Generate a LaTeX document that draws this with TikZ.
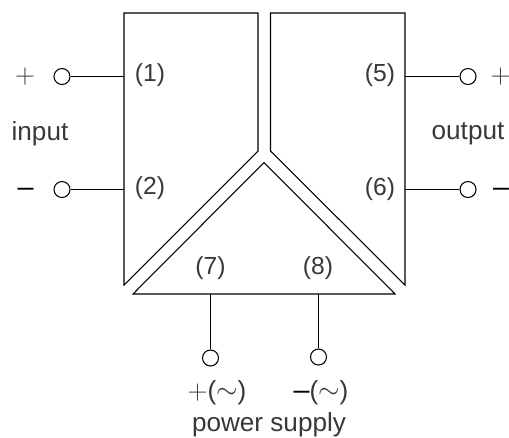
\documentclass[tikz,border=0pt]{standalone}
\usepackage{fontspec}
\setmainfont{Liberation Sans}
\tikzset{
  terminal/.style={
    circle,
    draw,
    fill=white,
    line width=0.8pt,
    minimum size=12pt,
    inner sep=0pt,
  },
  label text/.style={
    font=\fontsize{18.5pt}{20pt}\selectfont,
    text=black!78,
    inner sep=0pt,
  },
  word text/.style={
    label text,
    font=\fontsize{19.6pt}{21pt}\selectfont,
  },
  sign/.style={
    label text,
    font=\fontsize{20pt}{21pt}\selectfont,
  },
  minus sign/.style={
    label text,
    font=\fontsize{21.5pt}{26pt}\selectfont,
    text=black,
  },
  wire/.style={line width=0.8pt},
  block/.style={line width=0.8pt, line join=miter},
}

\begin{document}
\begin{tikzpicture}[x=0.75pt, y=-0.75pt]
        \useasboundingbox (0,0) rectangle (509,437);

        \draw[block] (124,13) -- (258,13) -- (258,151) -- (124,285) -- cycle;
        \draw[block] (270.5,13) -- (405,13) -- (405,285) -- (270.5,151) -- cycle;
        \draw[block] (264,162.5) -- (395,294) -- (133,294) -- cycle;

        \node[terminal] (in1) at (62,76.5) {};
        \node[terminal] (in2) at (62,189.5) {};
        \node[terminal] (out1) at (468,76.5) {};
        \node[terminal] (out2) at (468,189.5) {};
        \node[terminal] (pwr1) at (210.5,358) {};
        \node[terminal] (pwr2) at (318.5,357) {};

        \coordinate (p1) at (124,76.5);
        \coordinate (p2) at (124,189.5);
        \coordinate (p5) at (405,76.5);
        \coordinate (p6) at (405,189.5);
        \coordinate (p7) at (210.5,294);
        \coordinate (p8) at (318.5,294);

        \draw[wire] (in1) -- (p1);
        \draw[wire] (in2) -- (p2);
        \draw[wire] (out1) -- (p5);
        \draw[wire] (out2) -- (p6);
        \draw[wire] (pwr1) -- (p7);
        \draw[wire] (pwr2) -- (p8);

        \node[label text] (l1) at (150,75) {(1)};
        \node[label text] (l2) at (150,188) {(2)};
        \node[label text] (l5) at (380,75) {(5)};
        \node[label text] (l6) at (380,189) {(6)};
        \node[label text] (l7) at (210.5,268) {(7)};
        \node[label text] (l8) at (318,268) {(8)};

        \node[sign] (plusin) at (25,76.5) {$+$};
        \node[minus sign] (minusin) at (25.5,192.5) {–};
        \node[sign] (plusout) at (500.5,76.5) {$+$};
        \node[minus sign] (minusout) at (501,192.5) {–};

        \node[word text] (input) at (40,134) {input};
        \node[word text] (output) at (468,134) {output};

        \node[word text] (pwrplus) at (217,393) {$+$(\raisebox{1pt}{$\sim$})};
        \node[word text] (pwrminus) at (321,393) {{\color{black}\fontsize{21.5pt}{26pt}\selectfont\raisebox{0.5pt}{–}}(\raisebox{1pt}{$\sim$})};
        \node[word text] (supply) at (269,425) {power supply};
\end{tikzpicture}
\end{document}
